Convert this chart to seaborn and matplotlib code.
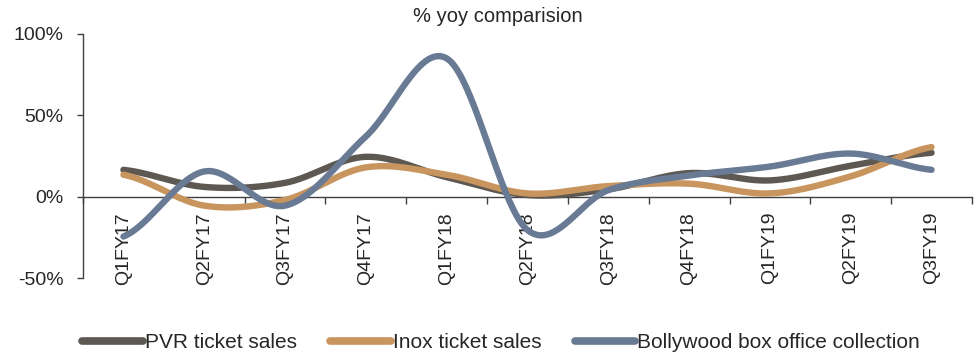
import numpy as np
import pandas as pd
import matplotlib
matplotlib.use("Agg")
import matplotlib.pyplot as plt
import seaborn as sns
from matplotlib.lines import Line2D
from matplotlib.ticker import FuncFormatter, FixedLocator

# data (% yoy)
quarters = ["Q1FY17", "Q2FY17", "Q3FY17", "Q4FY17", "Q1FY18", "Q2FY18",
            "Q3FY18", "Q4FY18", "Q1FY19", "Q2FY19", "Q3FY19"]
pvr = [16.5, 6, 8.5, 24.5, 12, 1, 4.5, 14.5, 10, 19, 27]
inox = [13.5, -5.5, -2, 18, 13.5, 2, 6.5, 8, 2, 12.5, 30.5]
bollywood = [-24.5, 15.5, -5.5, 37, 85, -20.5, 4, 13, 18.5, 26.5, 16.5]

series_names = ["PVR ticket sales", "Inox ticket sales", "Bollywood box office collection"]
colors = ["#5e5853", "#c8955f", "#687a94"]


def smooth(vals, steps=40):
    # Excel-style smoothed line: cubic bezier between points (catmull-rom control points)
    p = np.asarray(vals, dtype=float)
    n = len(p)
    xs, ys = [], []
    for i in range(n - 1):
        p0 = p[i - 1] if i > 0 else p[i]
        p1, p2 = p[i], p[i + 1]
        p3 = p[i + 2] if i + 2 < n else p[i + 1]
        c1 = p1 + (p2 - p0) / 6
        c2 = p2 - (p3 - p1) / 6
        t = np.linspace(0, 1, steps, endpoint=(i == n - 2))
        y = (1 - t) ** 3 * p1 + 3 * (1 - t) ** 2 * t * c1 + 3 * (1 - t) * t ** 2 * c2 + t ** 3 * p2
        xs.append(i + t)
        ys.append(y)
    return np.concatenate(xs), np.concatenate(ys)


sns.set_style("white")
plt.rcParams["font.family"] = ["Liberation Sans", "DejaVu Sans"]

fig = plt.figure(figsize=(9.79, 3.59), dpi=100)
ax = fig.add_axes([0.0848, 0.2256, 0.908, 0.6797])

for name, vals, col in zip(series_names, [pvr, inox, bollywood], colors):
    sx, sy = smooth(vals)
    df = pd.DataFrame({"x": sx, "y": sy})
    sns.lineplot(data=df, x="x", y="y", ax=ax, color=col, linewidth=4.6,
                 sort=False, estimator=None, legend=False,
                 solid_capstyle="round")

ax.set_xlim(-0.5, len(quarters) - 0.5)
ax.set_ylim(-50, 100)
ax.set_xlabel("")
ax.set_ylabel("")

# axes styling
for s in ["top", "right"]:
    ax.spines[s].set_visible(False)
ax.spines["bottom"].set_position(("data", 0))
for s in ["left", "bottom"]:
    ax.spines[s].set_color("#404040")
    ax.spines[s].set_linewidth(1.0)
    ax.spines[s].set_zorder(0)

ax.set_yticks([-50, 0, 50, 100])
ax.yaxis.set_major_formatter(FuncFormatter(lambda v, _: f"{v:.0f}%"))
ax.tick_params(axis="y", left=True, length=4, width=1, color="#404040",
               labelsize=14, pad=10, direction="out")

ax.set_xticks(range(len(quarters)))
ax.set_xticklabels(quarters, rotation=90, fontsize=14)
ax.xaxis.set_minor_locator(FixedLocator(np.arange(-0.5, len(quarters), 1.0)))
ax.tick_params(axis="x", which="major", bottom=True, length=0, pad=11)
ax.tick_params(axis="x", which="minor", bottom=True, length=5, width=1,
               color="#404040", direction="out")

fig.text(0.508, 0.955, "% yoy comparision", ha="center", va="center", fontsize=14.5)

handles = [Line2D([0], [0], color=c, linewidth=5.5, solid_capstyle="round") for c in colors]
fig.legend(handles, series_names, loc="center", bbox_to_anchor=(0.512, 0.045),
           ncol=3, frameon=False, fontsize=15, handlelength=2.9,
           handletextpad=0.1, columnspacing=1.6, borderpad=0)

fig.savefig("out.png", dpi=100)
